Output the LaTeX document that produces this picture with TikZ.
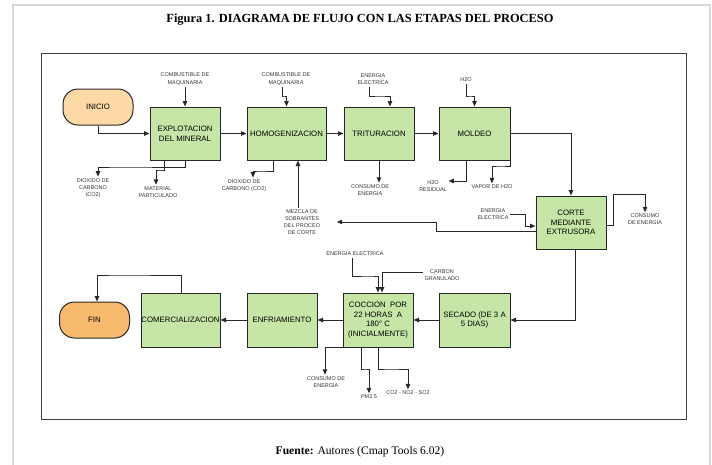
\documentclass[tikz,border=0pt]{standalone}
\usepackage{fontspec}
\setmainfont{Liberation Serif}
\setsansfont{Liberation Sans}
\usetikzlibrary{arrows.meta}
\definecolor{boxgreen}{RGB}{197,230,166}
\definecolor{startorange}{RGB}{253,217,165}
\definecolor{endorange}{RGB}{248,187,110}
\definecolor{linegray}{RGB}{40,40,40}
\tikzset{
  stepbox/.style={draw=linegray, line width=1pt, fill=boxgreen, minimum height=53pt, inner sep=1pt, align=center, font=\sffamily\fontsize{7.8}{9.6}\selectfont},
  termbox/.style={draw=linegray, line width=1pt, rounded corners=15pt, minimum width=70pt, minimum height=36pt, align=center, font=\sffamily\fontsize{7.8}{9.6}\selectfont},
  lab/.style={align=center, inner sep=1.5pt, text=black!80, font=\sffamily\fontsize{5.5}{7.2}\selectfont},
  arr/.style={draw=linegray, line width=1pt, -{Triangle[length=5.5pt,width=4.5pt]}},
}
\begin{document}
\begin{tikzpicture}[x=1pt,y=-1pt]
\useasboundingbox (0,0) rectangle (712,464);
% frames
\draw[black!15, line width=1.2pt] (13,470) -- (13,5) -- (710,5) -- (710,470);
\draw[black!75, line width=1pt] (41,53) rectangle (686,419);
% title and source
\node (title) at (360,20) {\fontsize{12.4}{14}\selectfont\bfseries Figura 1. DIAGRAMA DE FLUJO CON LAS ETAPAS DEL PROCESO};
\node (fuente) at (360,452) {\fontsize{11.6}{13}\selectfont\textbf{Fuente:} Autores (Cmap Tools 6.02)};
% main nodes
\node[termbox, fill=startorange] (inicio) at (98,107) {INICIO};
\node[stepbox, minimum width=70pt] (expl) at (185,133.5) {EXPLOTACION\\DEL MINERAL};
\node[stepbox, minimum width=79pt] (homog) at (286.5,133.5) {HOMOGENIZACION};
\node[stepbox, minimum width=70pt] (trit) at (379,133.5) {TRITURACION};
\node[stepbox, minimum width=71pt] (moldeo) at (474.5,133.5) {MOLDEO};
\node[stepbox, minimum width=70pt] (corte) at (571,222.5) {CORTE\\MEDIANTE\\EXTRUSORA};
\node[stepbox, minimum width=71pt, minimum height=54pt] (secado) at (474.5,320) {SECADO (DE 3 A\\5 DIAS)};
\node[stepbox, minimum width=70pt, minimum height=54pt] (coccion) at (378,320) {COCCION\ \ POR\\22 HORAS\ \ A\\180° C\\(INICIALMENTE)};
\node[stepbox, minimum width=70pt, minimum height=54pt] (enfr) at (282,320) {ENFRIAMIENTO};
\node[stepbox, minimum width=79pt, minimum height=54pt, inner sep=0pt] (comerc) at (180.5,320) {COMERCIALIZACION};
\node[termbox, fill=endorange] (fin) at (94.5,320) {FIN};
% labels
\node[lab] (c1) at (185,79) {COMBUSTIBLE DE\\MAQUINARIA};
\node[lab] (c2) at (286,79) {COMBUSTIBLE DE\\MAQUINARIA};
\node[lab] (e1) at (373,79.5) {ENERGIA\\ELECTRICA};
\node[lab] (h1) at (466,80) {H2O};
\node[lab] (d1) at (93,188) {DIOXIDO DE\\CARBONO\\(CO2)};
\node[lab] (m1) at (158,192) {MATERIAL\\PARTICULADO};
\node[lab] (d2) at (244,185.5) {DIOXIDO DE\\CARBONO (CO2)};
\node[lab] (mz) at (302,222) {MEZCLA DE\\SOBRANTES\\DEL PROCEO\\DE CORTE};
\node[lab] (tc) at (370,190) {CONSUMO DE\\ENERGIA};
\node[lab] (hr) at (433,186.5) {H2O\\RESIDUAL};
\node[lab] (vp) at (492,187) {VAPOR DE H2O};
\node[lab] (ec) at (493,214.5) {ENERGIA\\ELECTRICA};
\node[lab] (cc) at (645,219.5) {CONSUMO\\DE ENERGIA};
\node[lab] (ee) at (355,254) {ENERGIA ELECTRICA};
\node[lab] (cg) at (442,275.5) {CARBON\\GRANULADO};
\node[lab] (ce) at (326,382) {CONSUMO DE\\ENERGIA};
\node[lab] (pm) at (369,397) {PM2.5};
\node[lab] (co) at (408,393) {CO2 - NO2 - SO2};
% main flow
\draw[arr] (inicio.south) |- (expl.west);
\draw[arr] (expl.east) -- (homog.west);
\draw[arr] (homog.east) -- (trit.west);
\draw[arr] (trit.east) -- (moldeo.west);
\draw[arr] (moldeo.east) -| (corte.north);
\draw[arr] ([xshift=4pt]corte.south) |- (secado.east);
\draw[arr] (secado.west) -- (coccion.east);
\draw[arr] (coccion.west) -- (enfr.east);
\draw[arr] (enfr.west) -- (comerc.east);
\draw[arr] ([xshift=0.5pt]comerc.north) |- (120,275) -| ([xshift=2.5pt]fin.north);
% inputs row 1
\draw[arr] (c1.south) -- (expl.north);
\draw[arr] ([xshift=-4pt]c2.south) |- (284,96) -| (homog.north);
\draw[arr] ([xshift=-4pt]e1.south) |- (380,96) -| ([xshift=11pt]trit.north);
\draw[arr] (h1.south) |- (470,96) -| (moldeo.north);
% outputs row 1
\draw[arr] (expl.south) |- (120,167) -| ([xshift=5pt]d1.north);
\draw[arr] ([xshift=-21pt]expl.south) |- (160,170) -| ([xshift=-2pt]m1.north);
\draw[arr] ([xshift=-13.5pt]homog.south) |- (260,171) -| ([xshift=9pt]d2.north);
\draw[arr] ([xshift=-4pt]mz.north) -- ([xshift=11.5pt]homog.south);
\draw[arr] (trit.south) -- (trit.south |- tc.north);
\draw[arr] ([xshift=-8.5pt]moldeo.south) |- ([yshift=5.5pt]hr.east);
\draw[arr] (moldeo.south east) |- (500,166) -| (vp.north);
% corte
\draw[arr] (ec.east) -| (525,226) -- ([yshift=-3.5pt]corte.west);
\draw[arr] ([yshift=-8.5pt]corte.west) -- (436,231) |- ([xshift=15pt]mz.east);
\draw[arr] ([yshift=-2.5pt]corte.east) -| (613,194) -| (cc.north);
% coccion
\draw[arr] ([xshift=-3pt]ee.south) |- (370,276) -| (coccion.north);
\draw[arr] ([yshift=3.5pt]cg.west) -| ([xshift=4pt]coccion.north);
\draw[arr] (coccion.south west) -| ([xshift=-1pt]ce.north);
\draw[arr] ([xshift=-17pt]coccion.south) |- (365,369) -| (pm.north);
\draw[arr] (coccion.south) |- (390,369) -| (co.north);
\end{tikzpicture}
\end{document}
